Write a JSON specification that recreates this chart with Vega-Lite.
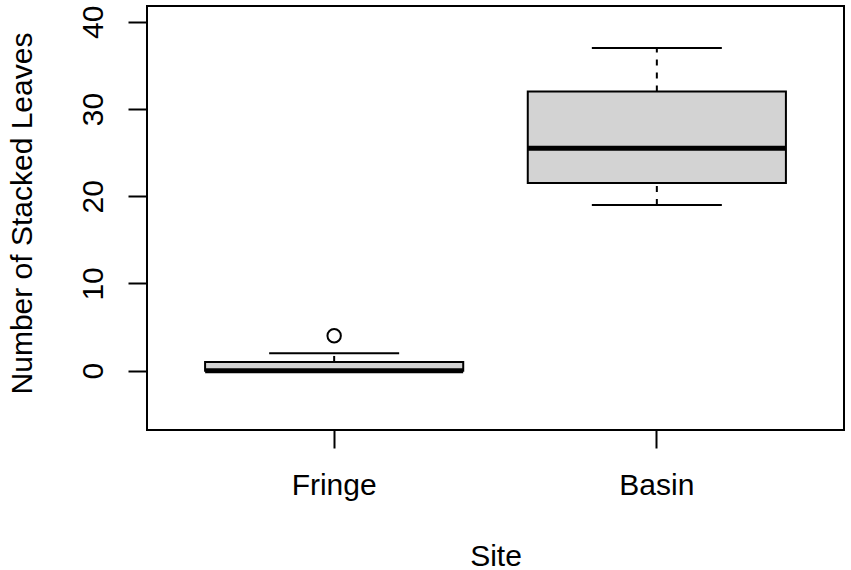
{
  "$schema": "https://vega.github.io/schema/vega-lite/v6.json",
  "width": 697,
  "height": 424,
  "autosize": {"type": "none"},
  "padding": {"left": 147, "top": 6, "right": 7, "bottom": 140},
  "background": "white",
  "config": {
    "view": {"stroke": "black", "strokeWidth": 2},
    "font": "Liberation Sans",
    "axis": {
      "grid": false,
      "domain": false,
      "tickColor": "black",
      "tickWidth": 2,
      "labelColor": "black",
      "titleColor": "black",
      "labelFont": "Liberation Sans",
      "titleFont": "Liberation Sans",
      "labelFontSize": 30,
      "titleFontSize": 30,
      "labelFontWeight": "normal",
      "titleFontWeight": "normal"
    }
  },
  "datasets": {
    "stats": [
      {"Site": "Fringe", "lower": 0, "q1": 0, "median": 0, "q3": 1, "upper": 2},
      {"Site": "Basin", "lower": 19, "q1": 21.5, "median": 25.5, "q3": 32, "upper": 37}
    ],
    "outliers": [
      {"Site": "Fringe", "value": 4}
    ]
  },
  "encoding": {
    "x": {
      "field": "Site",
      "type": "nominal",
      "scale": {"domain": ["Fringe", "Basin"], "paddingInner": 0.2, "paddingOuter": 0.18},
      "axis": {
        "title": "Site",
        "labelAngle": 0,
        "tickSize": 18,
        "labelPadding": 46,
        "labelBaseline": "alphabetic",
        "titleX": 348.5,
        "titleY": 135,
        "titleBaseline": "alphabetic",
        "titleAlign": "center"
      }
    }
  },
  "layer": [
    {
      "data": {"name": "stats"},
      "mark": {"type": "rule", "color": "black", "opacity": 1, "strokeWidth": 2, "strokeDash": [6, 7]},
      "encoding": {
        "y": {
          "field": "q3",
          "type": "quantitative",
          "scale": {"domain": [-6.8, 41.8], "nice": false, "zero": false},
          "axis": {
            "title": "Number of Stacked Leaves",
            "values": [0, 10, 20, 30, 40],
            "tickSize": 19,
            "labelAngle": 270,
            "labelAlign": "center",
            "labelBaseline": "alphabetic",
            "labelPadding": 26,
            "titleAngle": 270,
            "titleX": -116,
            "titleY": 207,
            "titleAlign": "center",
            "titleBaseline": "alphabetic"
          }
        },
        "y2": {"field": "upper"}
      }
    },
    {
      "data": {"name": "stats"},
      "mark": {"type": "rule", "color": "black", "opacity": 1, "strokeWidth": 2, "strokeDash": [6, 7]},
      "encoding": {
        "y": {"field": "lower", "type": "quantitative"},
        "y2": {"field": "q1"}
      }
    },
    {
      "data": {"name": "stats"},
      "mark": {"type": "tick", "color": "black", "opacity": 1, "size": 130, "thickness": 2},
      "encoding": {
        "y": {"field": "upper", "type": "quantitative"}
      }
    },
    {
      "data": {"name": "stats"},
      "mark": {"type": "tick", "color": "black", "opacity": 1, "size": 130, "thickness": 2},
      "encoding": {
        "y": {"field": "lower", "type": "quantitative"}
      }
    },
    {
      "data": {"name": "stats"},
      "mark": {"type": "bar", "fill": "#D3D3D3", "stroke": "black", "opacity": 1, "strokeWidth": 2, "cornerRadius": 0},
      "encoding": {
        "y": {"field": "q1", "type": "quantitative"},
        "y2": {"field": "q3"}
      }
    },
    {
      "data": {"name": "stats"},
      "mark": {"type": "tick", "color": "black", "opacity": 1, "size": 258, "thickness": 5},
      "encoding": {
        "y": {"field": "median", "type": "quantitative"}
      }
    },
    {
      "data": {"name": "outliers"},
      "mark": {"type": "point", "shape": "circle", "filled": false, "color": "black", "strokeWidth": 2, "size": 180, "opacity": 1},
      "encoding": {
        "y": {"field": "value", "type": "quantitative"}
      }
    }
  ]
}
